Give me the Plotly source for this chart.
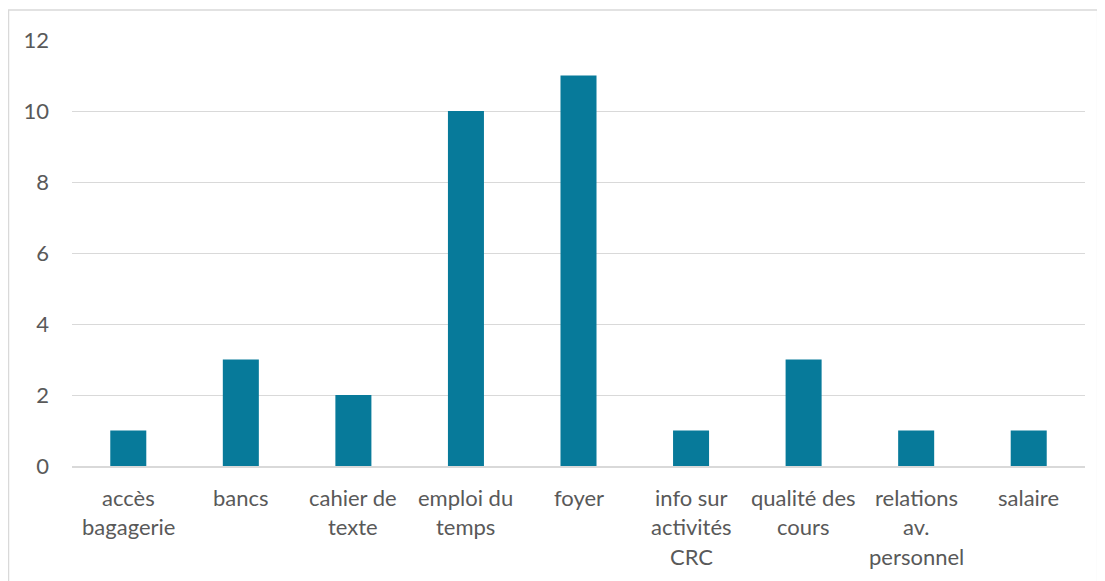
import plotly.graph_objects as go

categories = ["accès bagagerie", "bancs", "cahier de texte", "emploi du temps", "foyer",
              "info sur activités CRC", "qualité des cours", "relations av. personnel", "salaire"]
label_lines = [["accès", "bagagerie"], ["bancs"], ["cahier de", "texte"], ["emploi du", "temps"],
               ["foyer"], ["info sur", "activités", "CRC"], ["qualité des", "cours"],
               ["relations", "av.", "personnel"], ["salaire"]]
values = [1, 3, 2, 10, 11, 1, 3, 1, 1]
y_ticks = [0, 2, 4, 6, 8, 10, 12]

font = dict(family="Lato, Liberation Sans, sans-serif", size=22, color="#595959")

fig = go.Figure(go.Bar(x=categories, y=values, marker_color="#077A9A", marker_line_width=0))

for cat, lines in zip(categories, label_lines):
    for i, line in enumerate(lines):
        fig.add_annotation(x=cat, y=0, xref="x", yref="paper", text=line, showarrow=False,
                           yanchor="middle", yshift=-31 - 29.5 * i, font=font)

fig.add_shape(type="rect", xref="paper", yref="paper", x0=-0.0627, x1=1.0125, y0=-0.3, y1=1.0704,
              line=dict(color="#d9d9d9", width=1.5), layer="below")

# page body has an 8px margin, so the figure is shrunk by that much
fig.update_layout(
    width=1097, height=573,
    margin=dict(l=64, r=20, t=32, b=115),
    plot_bgcolor="white", paper_bgcolor="white",
    bargap=0.68, showlegend=False, font=font,
)
fig.update_xaxes(showticklabels=False, showline=True, linecolor="#d9d9d9", linewidth=1.5,
                 showgrid=False)
fig.update_yaxes(range=[0, 12], tickvals=y_ticks, showgrid=True, gridcolor="#d9d9d9", gridwidth=1,
                 zeroline=False, ticklabelstandoff=22, tickfont=font)

fig.write_html("out.html")
